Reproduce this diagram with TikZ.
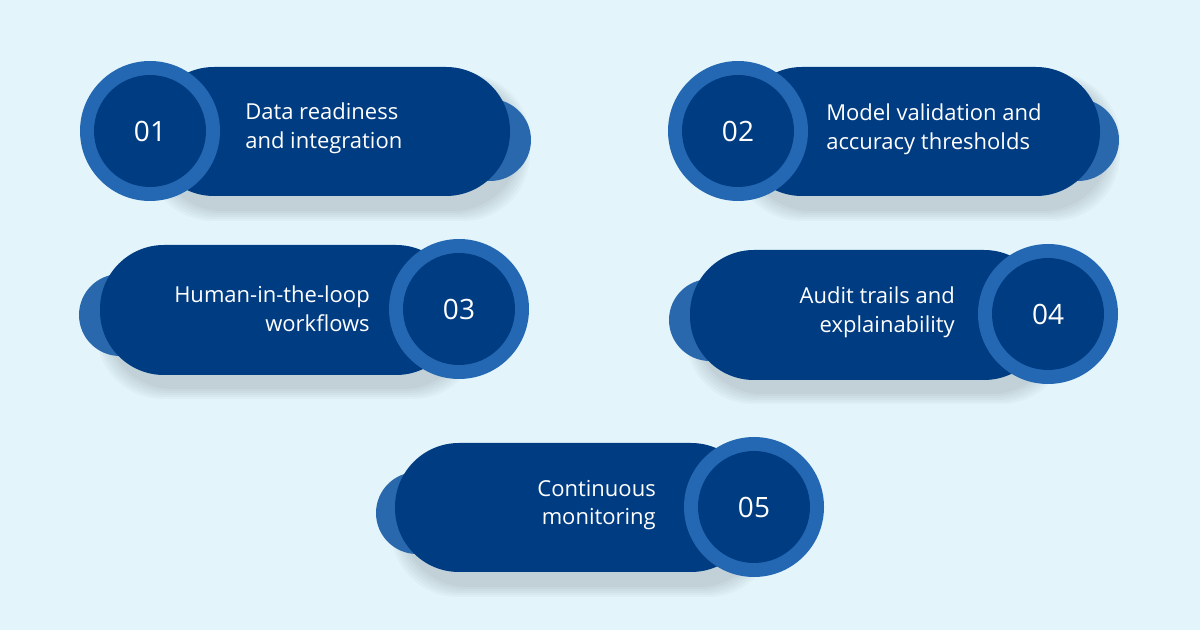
\documentclass[tikz,border=0pt]{standalone}
\usepackage{fontspec}
\setmainfont{Open Sans}
\begin{document}
\begin{tikzpicture}[x=0.75pt,y=-0.75pt,
  pill/.style={fill=pillc,rounded corners=48pt},
  tab/.style={fill=tabc},
  ring/.style={circle,fill=ringc,minimum size=140*0.75pt,inner sep=0pt},
  core/.style={circle,fill=pillc,minimum size=112*0.75pt,inner sep=0pt,text=white,font=\fontsize{21}{24}\selectfont},
  lbl/.style={text=white,font=\fontsize{16.5}{21.5}\selectfont,inner sep=0pt}]
\definecolor{bgc}{HTML}{E3F5FB}
\definecolor{pillc}{HTML}{003C82}
\definecolor{ringc}{HTML}{2468B4}
\definecolor{tabc}{HTML}{2A68AE}
\fill[bgc] (0,0) rectangle (1200,630);
\useasboundingbox (0,0) rectangle (1200,630);
% shadows
\foreach \x/\y/\w in {150/67/360,738/67/362,100/245/360,690/250/358,395/443/360}{
  \foreach \k in {1,...,6}{
    \fill[black,opacity=0.022,rounded corners=50pt] (\x+8-\k*2,\y+12-\k) rectangle ++(\w+\k*4,130+\k*3);
  }}
% pill 1
\fill[tab] (490,140) circle (41);
\fill[pill] (150,67) rectangle (510,196);
\node[ring] (r1) at (150,131) {};
\node[core] (n1) at (150,131) {01};
\node[lbl,align=left,anchor=west] (t1) at (245,128) {Data readiness\\and integration};
% pill 2
\fill[tab] (1078,140) circle (41);
\fill[pill] (738,67) rectangle (1100,196);
\node[ring] (r2) at (738,131) {};
\node[core] (n2) at (738,131) {02};
\node[lbl,align=left,anchor=west] (t2) at (826,129) {Model validation and\\accuracy thresholds};
% pill 3
\fill[tab] (120,315) circle (41);
\fill[pill] (100,245) rectangle (460,375);
\node[ring] (r3) at (459,309) {};
\node[core] (n3) at (459,309) {03};
\node[lbl,align=right,anchor=east] (t3) at (370,309) {Human-in-the-loop\\workflows};
% pill 4
\fill[tab] (710,320) circle (41);
\fill[pill] (690,250) rectangle (1048,380);
\node[ring] (r4) at (1048,314) {};
\node[core] (n4) at (1048,314) {04};
\node[lbl,align=right,anchor=east] (t4) at (955,312) {Audit trails and\\explainability};
% pill 5
\fill[tab] (417,513) circle (41);
\fill[pill] (395,443) rectangle (755,572);
\node[ring] (r5) at (754,507) {};
\node[core] (n5) at (754,507) {05};
\node[lbl,align=right,anchor=east] (t5) at (656,505) {Continuous\\monitoring};
\end{tikzpicture}
\end{document}
